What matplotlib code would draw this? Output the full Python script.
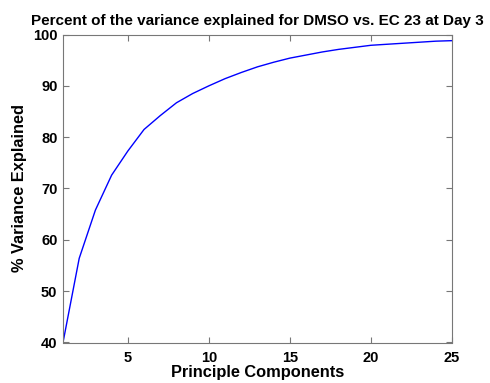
import matplotlib
matplotlib.use("Agg")
import matplotlib.pyplot as plt

components = list(range(1, 26))
variance = [40.0, 56.4, 65.8, 72.6, 77.3, 81.5, 84.2, 86.7, 88.5, 90.0,
            91.4, 92.6, 93.7, 94.6, 95.4, 96.0, 96.6, 97.1, 97.5, 97.9,
            98.1, 98.3, 98.5, 98.7, 98.8]
xticks = [5, 10, 15, 20, 25]
yticks = [40, 50, 60, 70, 80, 90, 100]

plt.rcParams['font.family'] = ['Liberation Sans', 'DejaVu Sans']
plt.rcParams['font.weight'] = 'bold'

fig = plt.figure(figsize=(4.9, 3.83), dpi=100)
ax = fig.add_axes([63/490, 1-342.5/383, (452-63)/490, (342.5-34.5)/383])
ax.plot(components, variance, color='#0000ff', lw=1.0)
ax.set_xlim(1, 25)
ax.set_ylim(40, 100)
ax.set_xticks(xticks)
ax.set_yticks(yticks)
ax.tick_params(direction='in', length=4, width=0.8, color='#777777',
               top=True, right=True, labelsize=10.5, pad=4)
ax.tick_params(axis='x', pad=6)
for lab in ax.get_xticklabels() + ax.get_yticklabels():
    lab.set_fontweight('bold')
for s in ax.spines.values():
    s.set_color('#777777')
    s.set_linewidth(0.8)
ax.set_title('Percent of the variance explained for DMSO vs. EC 23 at Day 3',
             fontsize=11, fontweight='bold', pad=7)
ax.set_xlabel('Principle Components', fontsize=11.8, fontweight='bold', labelpad=0)
ax.set_ylabel('% Variance Explained', fontsize=11.8, fontweight='bold', labelpad=4)
fig.savefig('out.png', dpi=100)
